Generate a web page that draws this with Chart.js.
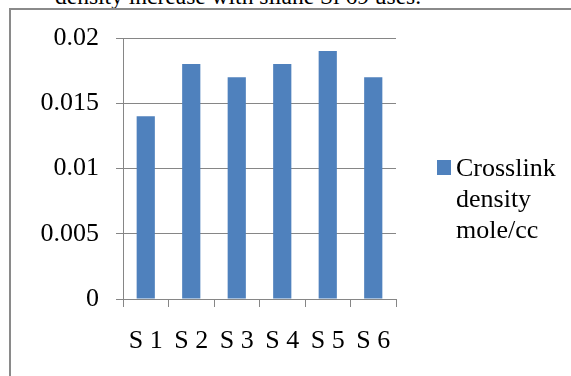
<!DOCTYPE html>
<html>
<head>
<meta charset="utf-8">
<script src="https://cdn.jsdelivr.net/npm/chart.js@4/dist/chart.umd.min.js"></script>
<style>
  html, body { margin: 0; padding: 0; background: #ffffff; overflow: hidden; }
  body { width: 571px; height: 376px; position: relative; }
  #caption { position: absolute; left: 55px; top: -16px; font: 23.5px "Liberation Serif", "Times New Roman", serif; line-height: 24px; color: #000; white-space: nowrap; }
  #frame { position: absolute; left: 9px; top: 8px; width: 600px; height: 400px; border-left: 2px solid #8a8a8a; border-top: 2px solid #8a8a8a; box-sizing: border-box; }
  #c { position: absolute; left: 0; top: 0; }
</style>
</head>
<body>
<div id="caption">density increase with silane Si 69 uses.</div>
<div id="frame"></div>
<canvas id="c" width="571" height="376"></canvas>
<script>
const categories = ['S 1', 'S 2', 'S 3', 'S 4', 'S 5', 'S 6'];
const seriesName = 'Crosslink density mole/cc';
const crosslinkDensity = [0.014, 0.018, 0.017, 0.018, 0.019, 0.017];
const yTickLabels = ['0', '0.005', '0.01', '0.015', '0.02'];

const FONT_FAMILY = '"Liberation Serif", "Times New Roman", serif';
const AXIS_GRAY = '#868686';
const BAR_BLUE = '#4F81BD';

const sideLegend = {
  id: 'sideLegend',
  afterDraw(chart) {
    const ctx = chart.ctx;
    const ds = chart.data.datasets[0];
    ctx.save();
    ctx.font = '26px ' + FONT_FAMILY;
    ctx.fillStyle = ds.backgroundColor;
    ctx.fillRect(437, 160, 14, 15);
    const words = ds.label.split(' ');
    const maxW = 108;
    const lines = [];
    let cur = '';
    for (const w of words) {
      const t = cur ? cur + ' ' + w : w;
      if (cur && ctx.measureText(t).width > maxW) { lines.push(cur); cur = w; } else { cur = t; }
    }
    if (cur) lines.push(cur);
    ctx.fillStyle = '#000';
    ctx.textBaseline = 'alphabetic';
    ctx.textAlign = 'left';
    lines.forEach((ln, i) => ctx.fillText(ln, 456, 176 + i * 31));
    ctx.restore();
  }
};

new Chart(document.getElementById('c'), {
  type: 'bar',
  data: {
    labels: categories,
    datasets: [{
      label: seriesName,
      data: crosslinkDensity,
      backgroundColor: BAR_BLUE,
      borderWidth: 0,
      categoryPercentage: 1.0,
      barPercentage: 0.4
    }]
  },
  options: {
    responsive: false,
    devicePixelRatio: 1,
    animation: false,
    layout: { padding: { left: 0, top: 38, right: 175, bottom: 0 } },
    plugins: { legend: { display: false }, tooltip: { enabled: false } },
    scales: {
      y: {
        min: 0,
        max: 0.02,
        ticks: {
          stepSize: 0.005,
          padding: 17,
          color: '#000',
          font: { family: FONT_FAMILY, size: 26 },
          callback: (v, i) => yTickLabels[i]
        },
        grid: { color: AXIS_GRAY, lineWidth: 1, tickLength: 7, drawTicks: true },
        border: { display: true, color: AXIS_GRAY, width: 1 },
        afterFit: (s) => { s.width = 123; }
      },
      x: {
        offset: true,
        ticks: {
          padding: 19,
          color: '#000',
          font: { family: FONT_FAMILY, size: 26 }
        },
        grid: { offset: true, drawOnChartArea: false, drawTicks: true, tickLength: 8, color: AXIS_GRAY, lineWidth: 1 },
        border: { display: true, color: AXIS_GRAY, width: 1 },
        afterFit: (s) => { s.height = 77; }
      }
    }
  },
  plugins: [sideLegend]
});
</script>
</body>
</html>
